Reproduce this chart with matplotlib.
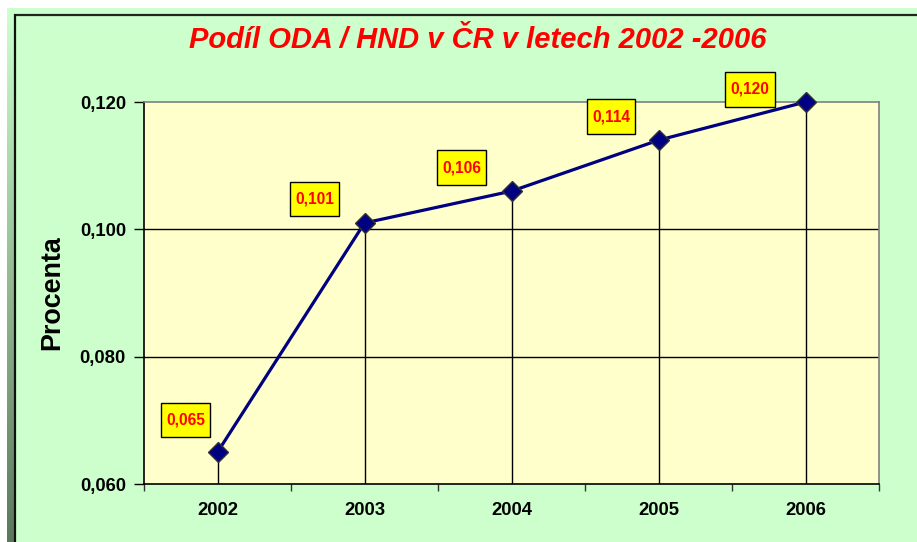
import matplotlib
matplotlib.use("Agg")
import matplotlib.pyplot as plt
import numpy as np
from matplotlib.path import Path
from matplotlib.ticker import FixedLocator, FuncFormatter

years = ["2002", "2003", "2004", "2005", "2006"]
values = [0.065, 0.101, 0.106, 0.114, 0.120]
value_labels = ["0,065", "0,101", "0,106", "0,114", "0,120"]
y_ticks = [0.060, 0.080, 0.100, 0.120]
title = "Podíl ODA / HND v ČR v letech 2002 -2006"
ylabel = "Procenta"

# label offsets in points (style/position only)
label_offsets = [(-23, 23), (-36, 17), (-36, 17), (-34, 17), (-40, 9)]


def label_box(x0, y0, width, height, mutation_size):
    px = 0.33 * mutation_size
    py = 0.62 * mutation_size
    x0, y0 = x0 - px, y0 - py
    x1, y1 = x0 + width + 2 * px, y0 + height + 2 * py
    return Path([(x0, y0), (x1, y0), (x1, y1), (x0, y1), (x0, y0)], closed=True)


W, H = 917, 542
fig = plt.figure(figsize=(W / 100, H / 100), dpi=100)
fig.patch.set_facecolor("white")
plt.rcParams["font.family"] = ["Liberation Sans", "DejaVu Sans"]

# background panel
bg = fig.add_axes([0, 0, 1, 1], zorder=-10)
bg.set_xlim(0, W)
bg.set_ylim(H, 0)
bg.axis("off")
bg.add_patch(plt.Rectangle((7, 8), W - 7, H - 8, facecolor="#CCFFCC", edgecolor="none"))
grad = np.linspace(0, 1, 256).reshape(-1, 1)
top_c = np.array([0.80, 1.0, 0.80])
bot_c = np.array([0.36, 0.47, 0.36])
img = top_c[None, None, :] * (1 - grad[:, :, None]) + bot_c[None, None, :] * grad[:, :, None]
bg.imshow(img, extent=(7, 14, H, 14), aspect="auto", zorder=1)
bg.plot([14, W], [14.5, 14.5], color="#222222", lw=1.6, zorder=2, solid_capstyle="butt")
bg.plot([14.5, 14.5], [14, H], color="#111111", lw=1.6, zorder=2, solid_capstyle="butt")

ax = fig.add_axes([144 / W, 1 - 484 / H, 735 / W, 382 / H])
ax.set_facecolor("#FFFFCC")
x = np.arange(len(years))
ax.set_xlim(-0.5, len(years) - 0.5)
ax.set_ylim(y_ticks[0], y_ticks[-1])

ax.vlines(x, y_ticks[0], values, color="black", lw=1, zorder=2)
ax.plot(x, values, color="#000080", lw=2.3, marker="D", markersize=10.5,
        markerfacecolor="#000080", markeredgecolor="#333333", markeredgewidth=1, zorder=4,
        clip_on=False)

for xi, v, lab, off in zip(x, values, value_labels, label_offsets):
    ax.annotate(lab, (xi, v), xytext=off, textcoords="offset points",
                ha="center", va="center", color="#FF0000", fontsize=11.2, fontweight="bold",
                bbox=dict(boxstyle=label_box, facecolor="#FFFF00", edgecolor="black", lw=1),
                zorder=6, annotation_clip=False)

ax.yaxis.set_major_locator(FixedLocator(y_ticks))
ax.yaxis.set_major_formatter(FuncFormatter(lambda v, p: f"{v:.3f}".replace(".", ",")))
ax.grid(axis="y", color="black", lw=1, zorder=1)
gl = ax.get_ygridlines()
gl[0].set_visible(False)
gl[-1].set_visible(False)
ax.set_axisbelow(True)

ax.set_xticks(x)
ax.set_xticklabels(years)
ax.set_xticks(np.arange(-0.5, len(years), 1), minor=True)
ax.tick_params(axis="x", which="major", length=0, pad=13, labelsize=13.3)
ax.tick_params(axis="x", which="minor", length=5, width=1, color="#333333", direction="out")
ax.tick_params(axis="y", length=7, width=1, pad=6, labelsize=13.3, direction="out")
for t in ax.get_xticklabels() + ax.get_yticklabels():
    t.set_fontweight("bold")

for s in ["top", "right"]:
    ax.spines[s].set_color("#808080")
    ax.spines[s].set_linewidth(1.2)
for s in ["left", "bottom"]:
    ax.spines[s].set_color("black")
    ax.spines[s].set_linewidth(1.2)

fig.text(478 / W, 1 - 40 / H, title, ha="center", va="center", color="#FF0000",
         fontsize=21, fontweight="bold", fontstyle="italic")
fig.text(52 / W, 1 - 293 / H, ylabel, ha="center", va="center", rotation=90,
         fontsize=19.4, fontweight="bold", color="black")

fig.savefig("out.png", dpi=100, facecolor=fig.get_facecolor())
